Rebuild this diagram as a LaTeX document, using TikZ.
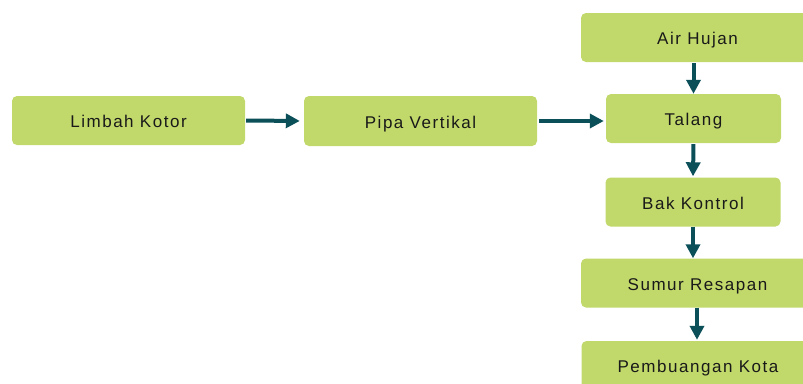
\documentclass[tikz,border=0pt]{standalone}
\usepackage{fontspec}
\setmainfont{Liberation Sans}[LetterSpace=9]
\usetikzlibrary{arrows.meta}
\definecolor{boxgreen}{HTML}{C1D86B}
\definecolor{flowteal}{HTML}{0B4F59}
\tikzset{
  flowbox/.style={draw=none, fill=boxgreen, rounded corners=5pt, inner sep=0pt,
    font=\fontsize{17}{19}\selectfont, text=black!90,
    text height=15pt, text depth=1pt},
  flowarrow/.style={draw=flowteal, line width=4pt,
    -{Triangle[length=14pt,width=14pt]}}
}
\begin{document}
\begin{tikzpicture}[x=1pt,y=-1pt]
  \useasboundingbox (0,0) rectangle (803,383);
  \begin{scope}
    \clip (0,0) rectangle (803,383);
    % left chain
    \node[flowbox, minimum width=233pt, minimum height=49pt] (limbah) at (128.5,120.5) {Limbah Kotor};
    \node[flowbox, minimum width=233pt, minimum height=50pt] (pipa) at (420.5,121) {Pipa Vertikal};
    % right column
    \node[flowbox, minimum width=233pt, minimum height=49pt] (hujan) at (697.5,37.5) {Air Hujan};
    \node[flowbox, minimum width=175pt, minimum height=49pt] (talang) at (693.5,118.5) {Talang};
    \node[flowbox, minimum width=175pt, minimum height=49pt] (bak) at (693,202) {Bak Kontrol};
    \node[flowbox, minimum width=233pt, minimum height=49pt] (sumur) at (697.5,283) {Sumur Resapan};
    \node[flowbox, minimum width=233pt, minimum height=49pt] (kota) at (698,365.5) {Pembuangan Kota};
  \end{scope}
  % connectors
  \draw[flowarrow, shorten <=1pt, shorten >=4pt] (limbah.east) -- (pipa.west);
  \draw[flowarrow, shorten <=2pt, shorten >=2pt] (pipa.east) -- (talang.west |- pipa.east);
  \draw[flowarrow, shorten <=1pt] (talang.north |- hujan.south) -- (talang.north);
  \draw[flowarrow, shorten <=1pt, shorten >=1pt] (talang.south) -- (bak.north);
  \draw[flowarrow] (bak.south) -- (bak.south |- sumur.north);
  \draw[flowarrow, shorten >=1pt] ([xshift=4pt]bak.south |- sumur.south) -- ([xshift=4pt]bak.south |- kota.north);
\end{tikzpicture}
\end{document}
